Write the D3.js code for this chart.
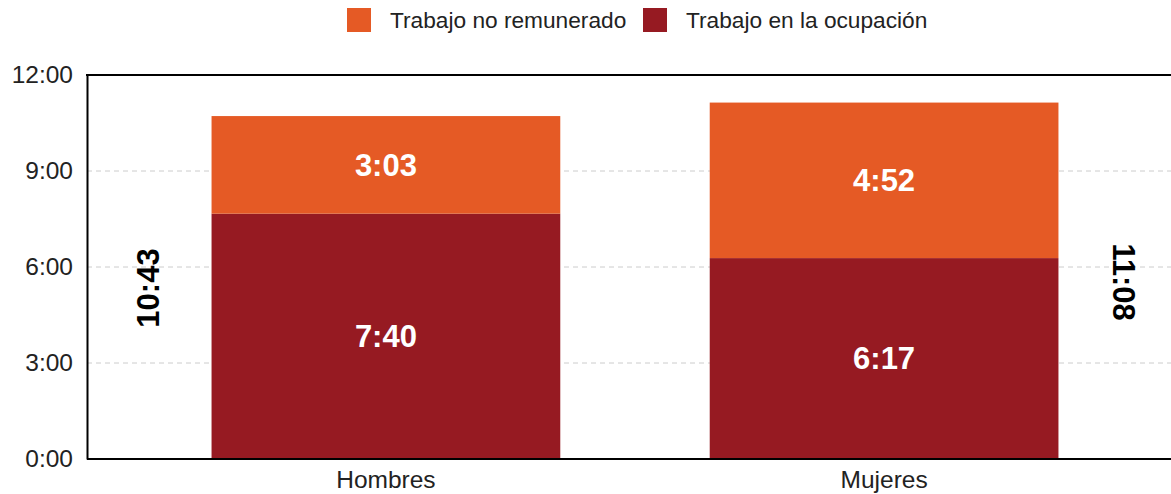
<!DOCTYPE html>
<html>
<head>
<meta charset="utf-8">
<script src="https://cdn.jsdelivr.net/npm/d3@7"></script>
<style>
  body { margin: 0; background: #fff; }
  svg { font-family: "Liberation Sans", Arial, sans-serif; }
</style>
</head>
<body>
<svg id="chart" width="1171" height="494"></svg>
<script>
// datos (minutos)
const grupos = ["Hombres", "Mujeres"];
const ocupacion = [460, 376.7];      // 7:40, 6:17
const noRemunerado = [183, 291.6];   // 3:03, 4:52
const series = ["Trabajo no remunerado", "Trabajo en la ocupación"];
const colores = ["#e55a25", "#961a22"];
const ticksY = [0, 180, 360, 540, 720];

const fmt = m => {
  const t = Math.round(m);
  return Math.floor(t / 60) + ":" + String(t % 60).padStart(2, "0");
};

const svg = d3.select("#chart");
const mLeft = 87, mTop = 75, mBottom = 459, mRight = 1183;

const y = d3.scaleLinear().domain([0, 720]).range([mBottom, mTop]);
const x = d3.scaleBand().domain(grupos).range([mLeft, mRight])
  .paddingInner(0.3).paddingOuter(0.25);

// grid
svg.append("g").selectAll("line").data(ticksY.slice(1, -1)).join("line")
  .attr("x1", mLeft).attr("x2", 1171)
  .attr("y1", d => y(d)).attr("y2", d => y(d))
  .attr("stroke", "#ccc").attr("stroke-dasharray", "5,4");

// barras
const g = svg.append("g");
grupos.forEach((k, i) => {
  const a = ocupacion[i], b = noRemunerado[i];
  g.append("rect").attr("x", x(k)).attr("width", x.bandwidth())
    .attr("y", y(a)).attr("height", y(0) - y(a)).attr("fill", colores[1]);
  g.append("rect").attr("x", x(k)).attr("width", x.bandwidth())
    .attr("y", y(a + b)).attr("height", y(a) - y(a + b)).attr("fill", colores[0]);
  g.append("text").attr("x", x(k) + x.bandwidth() / 2).attr("y", y(a / 2))
    .attr("dy", "0.35em").attr("text-anchor", "middle").attr("fill", "#fff")
    .attr("font-size", 31).attr("font-weight", "bold").text(fmt(a));
  g.append("text").attr("x", x(k) + x.bandwidth() / 2).attr("y", y(a + b / 2))
    .attr("dy", "0.35em").attr("text-anchor", "middle").attr("fill", "#fff")
    .attr("font-size", 31).attr("font-weight", "bold").text(fmt(b));
});

// totales verticales
const tot = grupos.map((k, i) => ocupacion[i] + noRemunerado[i]);
svg.append("text").attr("transform", "translate(148,288) rotate(-90)")
  .attr("text-anchor", "middle").attr("dy", "0.35em").attr("fill", "#000")
  .attr("font-size", 31).attr("font-weight", "bold").text(fmt(tot[0]));
svg.append("text").attr("transform", "translate(1124,282) rotate(90)")
  .attr("text-anchor", "middle").attr("dy", "0.35em").attr("fill", "#000")
  .attr("font-size", 31).attr("font-weight", "bold").text(fmt(tot[1]));

// ejes
const ay = svg.append("g").attr("transform", `translate(${mLeft},0)`)
  .call(d3.axisLeft(y).tickValues(ticksY).tickFormat(fmt).tickSize(0).tickPadding(14));
ay.select(".domain").attr("stroke", "#000").attr("stroke-width", 2);
ay.selectAll("text").attr("font-size", 24.5).attr("fill", "#222")
  .attr("font-family", "Liberation Sans, Arial, sans-serif");

const ax = svg.append("g").attr("transform", `translate(0,${mBottom})`)
  .call(d3.axisBottom(x).tickSize(0).tickPadding(12));
ax.select(".domain").remove();
ax.selectAll("text").attr("font-size", 24.5).attr("fill", "#222")
  .attr("font-family", "Liberation Sans, Arial, sans-serif");

svg.append("line").attr("x1", mLeft).attr("x2", 1171).attr("y1", mBottom).attr("y2", mBottom)
  .attr("stroke", "#000").attr("stroke-width", 2);
svg.append("line").attr("x1", mLeft - 1).attr("x2", 1171).attr("y1", mTop).attr("y2", mTop)
  .attr("stroke", "#000").attr("stroke-width", 2);

// leyenda
const ley = svg.append("g");
const legX = [347, 643];
series.forEach((s, i) => {
  ley.append("rect").attr("x", legX[i]).attr("y", 8).attr("width", 24).attr("height", 24)
    .attr("fill", colores[i]);
  ley.append("text").attr("x", legX[i] + 43).attr("y", 20).attr("dy", "0.35em")
    .attr("font-size", 22.7).attr("fill", "#222").text(s);
});
</script>
</body>
</html>
